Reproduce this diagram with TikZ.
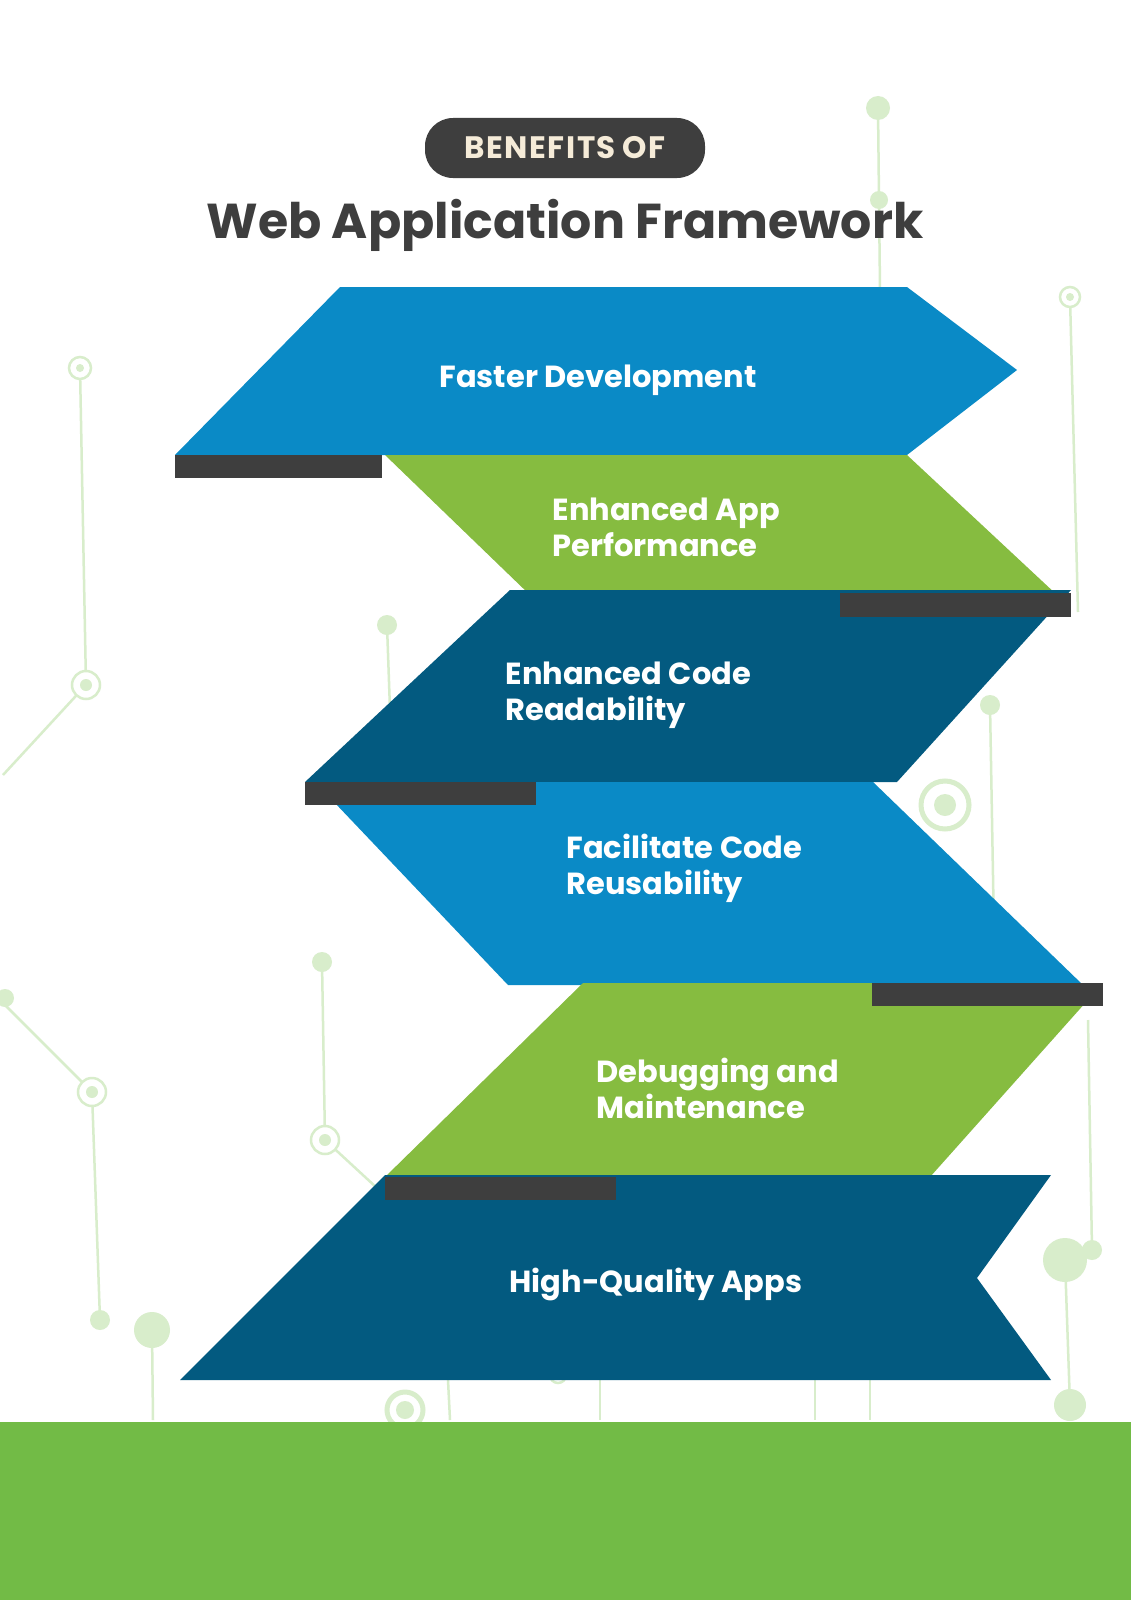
\documentclass[tikz,border=0pt]{standalone}
\usepackage{fontspec}
\setmainfont{Poppins}
\definecolor{bl}{HTML}{0A8AC6}
\definecolor{gr}{HTML}{86BC40}
\definecolor{db}{HTML}{035A80}
\definecolor{dk}{HTML}{3E3E3E}
\definecolor{lg}{HTML}{D8EDCB}
\definecolor{band}{HTML}{72BB46}
\definecolor{cream}{HTML}{F5EBD8}
\tikzset{deco/.style={draw=lg,line width=2.5pt},
 ring/.style={deco,fill=white},
 lbl/.style={text=white,font=\bfseries\fontsize{30.5}{36}\selectfont,align=left,anchor=west},
 bar/.style={fill=dk}}
\begin{document}
\begin{tikzpicture}[x=1pt,y=-1pt]
\useasboundingbox (0,0) rectangle (1131,1600);
\fill[white] (0,0) rectangle (1131,1600);
% decorations
\draw[deco] (878,108)--(880,290);
\fill[lg] (878,108) circle (12); \fill[lg] (879,200) circle (9);
\draw[deco] (1070,297)--(1078,612);
\draw[ring] (1070,297) circle (10); \fill[lg] (1070,297) circle (4);
\draw[deco] (80,368)--(86,685)--(3,775);
\draw[ring] (80,368) circle (11); \fill[lg] (80,368) circle (4);
\draw[ring] (86,685) circle (14); \fill[lg] (86,685) circle (6);
\draw[deco] (387,625)--(390,710);
\fill[lg] (387,625) circle (10);
\draw[deco] (990,705)--(995,990);
\fill[lg] (990,705) circle (10);
\draw[ring,line width=5pt] (945,805) circle (24); \fill[lg] (945,805) circle (11);
\draw[deco] (0,1000)--(92,1092)--(100,1320);
\fill[lg] (5,998) circle (9);
\draw[ring] (92,1092) circle (14); \fill[lg] (92,1092) circle (6);
\fill[lg] (100,1320) circle (10);
\draw[deco] (152,1330)--(153,1420);
\fill[lg] (152,1330) circle (18);
\draw[deco] (322,962)--(325,1140)--(390,1200);
\fill[lg] (322,962) circle (10);
\draw[ring] (325,1140) circle (14); \fill[lg] (325,1140) circle (6);
\draw[deco] (1088,1020)--(1092,1250);
\draw[deco] (1065,1260)--(1070,1405);
\fill[lg] (1065,1260) circle (22); \fill[lg] (1092,1250) circle (10);
\fill[lg] (1070,1405) circle (16);
\draw[deco] (448,1380)--(450,1420); \draw[deco] (600,1380)--(600,1420);
\draw[deco] (815,1380)--(815,1420); \draw[deco] (870,1380)--(870,1420);
\draw[ring,line width=5pt] (405,1410) circle (18); \fill[lg] (405,1410) circle (9);
\draw[ring] (558,1375) circle (8);
% band
\fill[band] (0,1422) rectangle (1131,1600);
% title
\node[fill=dk,rounded corners=28pt,minimum width=280pt,minimum height=60pt,text=cream,
 font=\bfseries\fontsize{31}{36}\selectfont] (badge) at (565,148) {B\kern1.5pt E\kern1.5pt N\kern1.5pt E\kern1.5pt F\kern1.5pt I\kern1.5pt T\kern1.5pt S\ O\kern1.5pt F};
\node[text=dk,font=\bfseries\fontsize{49}{56}\selectfont] (title) at (565,225) {Web Application Framework};
% shapes
\fill[bl] (340,287)--(907,287)--(1017,370)--(907,455)--(175,455)--cycle;
\fill[gr] (385,455)--(907,455)--(1057,595)--(530,595)--cycle;
\fill[db] (510,590)--(1071,590)--(897,782)--(305,782)--cycle;
\fill[bl] (315,782)--(873,782)--(1083,985)--(508,985)--cycle;
\fill[gr] (583,983)--(1103,983)--(930,1177)--(385,1177)--cycle;
\fill[db] (385,1175)--(1051,1175)--(977,1278)--(1051,1380)--(180,1380)--cycle;
\fill[bar] (175,455) rectangle (382,478);
\fill[bar] (840,593) rectangle (1071,617);
\fill[bar] (305,782) rectangle (536,805);
\fill[bar] (872,983) rectangle (1103,1006);
\fill[bar] (385,1177) rectangle (616,1200);
% labels
\node[lbl] (t1) at (436,380) {Faster Development};
\node[lbl] (t2) at (549,527) {Enhanced App\\Performance};
\node[lbl] (t3) at (502,695) {Enhanced Code\\Readability};
\node[lbl] (t4) at (563,868) {Facilitate Code\\Reusability};
\node[lbl] (t5) at (593,1088) {Debugging and\\Maintenance};
\node[lbl] (t6) at (506,1284) {High-Quality Apps};
\end{tikzpicture}
\end{document}
